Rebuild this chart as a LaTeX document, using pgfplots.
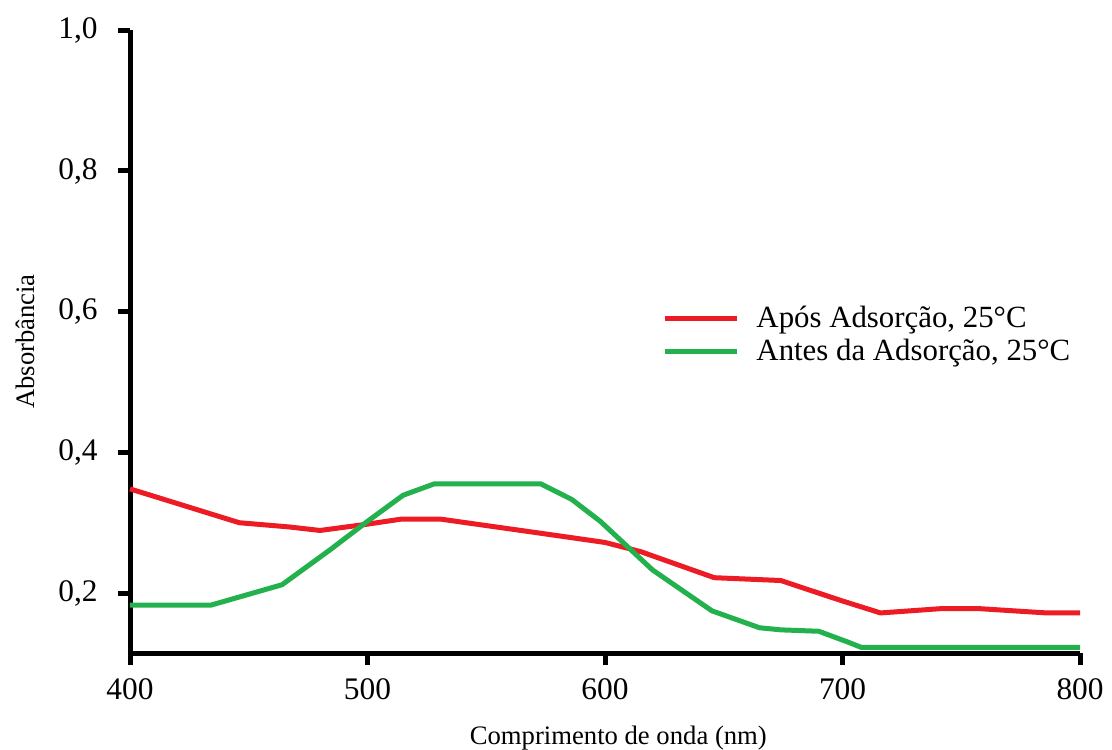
\documentclass[border=0pt]{standalone}
\usepackage{fontspec}
\setmainfont{Liberation Serif}
\usepackage{pgfplots}
\pgfplotsset{compat=1.18}

\definecolor{redline}{RGB}{237,28,36}
\definecolor{greenline}{RGB}{34,177,76}

\begin{document}
\begin{tikzpicture}
  \begin{axis}[
    name=ax,
    scale only axis,
    width=342pt, height=224.3pt,
    xmin=400, xmax=800,
    ymin=0.116, ymax=1.0,
    axis x line=bottom, axis y line=left,
    axis line style={line width=1.8pt, -},
    xtick={400,500,...,800},
    ytick={0.2,0.4,0.6,0.8,1.0},
    tick align=outside,
    major tick length=4.3pt,
    every tick/.style={line width=1.8pt, black},
    /pgf/number format/assume math mode=true,
    yticklabel style={/pgf/number format/.cd, use comma, fixed, fixed zerofill, precision=1, /tikz/.cd, xshift=-3.8pt},
    xticklabel style={/pgf/number format/1000 sep={}, yshift=-1.2pt},
    tick label style={font=\fontsize{11.3}{13}\selectfont},
    xlabel={Comprimento de onda (nm)},
    ylabel={Absorbância},
    label style={font=\fontsize{9.6}{12}\selectfont},
    xlabel style={at={(axis description cs:0.514,0)}, anchor=center, yshift=-30.6pt},
    ylabel style={at={(axis description cs:0,0.5)}, anchor=center, yshift=37.5pt},
    legend style={draw=none, fill=none, at={(axis cs:624,0.567)}, anchor=west,
      inner sep=0pt, row sep=0.5pt, column sep=5pt,
      font=\fontsize{11.1}{13}\selectfont, nodes={inner sep=1pt}},
    legend cell align=left,
    legend image code/.code={\draw[#1, line width=1.8pt] (0pt,0pt) -- (26pt,0pt);},
    clip=false,
  ]
    \addplot[redline, line width=1.8pt] coordinates {
      (400,0.349) (446,0.301) (467,0.295) (480,0.290) (500,0.299)
      (514,0.306) (531,0.306) (573,0.286) (600,0.273) (615,0.260)
      (646,0.223) (674,0.219) (699,0.191) (716,0.173) (741,0.179)
      (758,0.179) (786,0.173) (800,0.173)
    };
    \addlegendentry{Após Adsorção, 25°C}
    \addplot[greenline, line width=1.8pt] coordinates {
      (400,0.184) (434,0.184) (464,0.213) (484,0.262) (500,0.303)
      (515,0.340) (528,0.356) (573,0.356) (586,0.334) (598,0.303)
      (620,0.234) (645,0.176) (665,0.152) (674,0.149) (690,0.147)
      (702,0.132) (708,0.124) (800,0.124)
    };
    \addlegendentry{Antes da Adsorção, 25°C}
  \end{axis}
  \pgfresetboundingbox
  \path ([shift={(-46.8pt,-34.6pt)}]ax.south west) rectangle ([shift={(11.5pt,10.8pt)}]ax.north east);
\end{tikzpicture}
\end{document}
